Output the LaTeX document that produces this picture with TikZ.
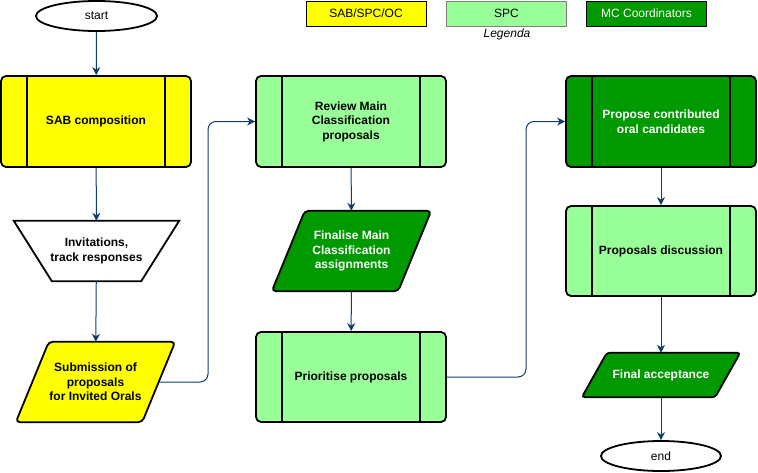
\documentclass[tikz,border=0pt]{standalone}
\usepackage{fontspec}
\setmainfont{Liberation Sans}
\usetikzlibrary{shapes.geometric,arrows.meta,backgrounds}
\definecolor{ylw}{HTML}{FFFF00}
\definecolor{lgreen}{HTML}{99FF99}
\definecolor{dgreen}{HTML}{009900}
\definecolor{navy}{HTML}{0F3D70}
\tikzset{
  txt/.style={font=\fontsize{12}{14.5}\selectfont\bfseries, align=center, inner sep=0pt},
  procbox/.style={draw=black, line width=1.8pt, rounded corners=5pt, minimum width=190pt, minimum height=91pt, txt},
  shapeline/.style={draw=black, line width=1.8pt},
  term/.style={ellipse, draw=black, line width=1.8pt, fill=white, minimum width=121pt, minimum height=30pt, inner sep=0pt, font=\fontsize{12}{14}\selectfont},
  legbox/.style={draw=black, line width=1pt, minimum width=120pt, minimum height=25pt, inner sep=0pt, font=\fontsize{12}{14}\selectfont},
  conn/.style={draw=navy, line width=1pt, -{Stealth[length=8pt,width=8pt,inset=2.5pt]}},
}
\begin{document}
\begin{tikzpicture}[x=1pt,y=-1pt]
\useasboundingbox (0,0) rectangle (758,472);
% legend
\node[legbox, fill=ylw] (lg1) at (366,13.5) {SAB/SPC/OC};
\node[legbox, fill=lgreen, draw=gray] (lg2) at (506.5,13.5) {SPC};
\node[legbox, fill=dgreen, text=white] (lg3) at (646.5,13.5) {MC Coordinators};
\node[font=\fontsize{12}{14}\selectfont\itshape] (lgt) at (507,34) {Legenda};
% terminals
\node[term] (start) at (96.5,16) {start};
\node[term, minimum width=120pt] (end) at (661,456) {end};
% process boxes
\node[procbox, fill=ylw] (sab) at (96,121.5) {SAB composition};
\node[procbox, fill=lgreen] (rev) at (351,121.5) {Review Main\\Classification\\proposals};
\node[procbox, fill=lgreen, minimum height=90pt] (pri) at (351,377) {Prioritise proposals};
\node[procbox, fill=dgreen, text=white] (pro) at (661,121.5) {Propose contributed\\oral candidates};
\node[procbox, fill=lgreen, minimum height=90pt] (dis) at (661,251) {Proposals discussion};
\foreach \n in {sab,rev,pri,pro,dis}{
  \draw[line width=1.6pt] ([xshift=27pt]\n.north west) -- ([xshift=27pt]\n.south west);
  \draw[line width=1.6pt] ([xshift=-27pt]\n.north east) -- ([xshift=-27pt]\n.south east);
}
% other shapes (text frames)
\node[txt, minimum width=165pt, minimum height=60pt] (inv) at (96.5,251) {Invitations,\\track responses};
\node[txt, minimum width=159pt, minimum height=80pt] (sub) at (95.5,382) {Submission of\\proposals\\for Invited Orals};
\node[txt, minimum width=159pt, minimum height=80pt, text=white] (fin) at (351.5,251) {Finalise Main\\Classification\\assignments};
\node[txt, minimum width=158pt, minimum height=44pt, text=white] (acc) at (661,375) {Final acceptance};
\begin{scope}[on background layer]
  \draw[shapeline, fill=white] (inv.north west) -- (inv.north east) -- ([xshift=-38pt]inv.south east) -- ([xshift=38pt]inv.south west) -- cycle;
  \draw[shapeline, fill=ylw, rounded corners=4pt] ([xshift=33pt]sub.north west) -- (sub.north east) -- ([xshift=-33pt]sub.south east) -- (sub.south west) -- cycle;
  \draw[shapeline, fill=dgreen, rounded corners=4pt] ([xshift=33pt]fin.north west) -- (fin.north east) -- ([xshift=-33pt]fin.south east) -- (fin.south west) -- cycle;
  \draw[shapeline, fill=dgreen, rounded corners=3pt] ([xshift=25pt]acc.north west) -- (acc.north east) -- ([xshift=-25pt]acc.south east) -- (acc.south west) -- cycle;
\end{scope}
\coordinate (subr) at ([xshift=-16.5pt]sub.east);
\coordinate (c1) at (208,382);
\coordinate (c2) at (526,377);
% connectors
\draw[conn] (start) -- (sab);
\draw[conn] (sab) -- (inv);
\draw[conn] (inv) -- (sub);
\draw[conn, rounded corners=8pt] (subr) -- (c1) |- (rev.west);
\draw[conn] (rev) -- (fin);
\draw[conn] (fin) -- (pri);
\draw[conn, rounded corners=8pt] (pri.east) -- (c2) |- (pro.west);
\draw[conn] (pro) -- (dis);
\draw[conn] (dis) -- (acc);
\draw[conn] (acc) -- (end);
\end{tikzpicture}
\end{document}
